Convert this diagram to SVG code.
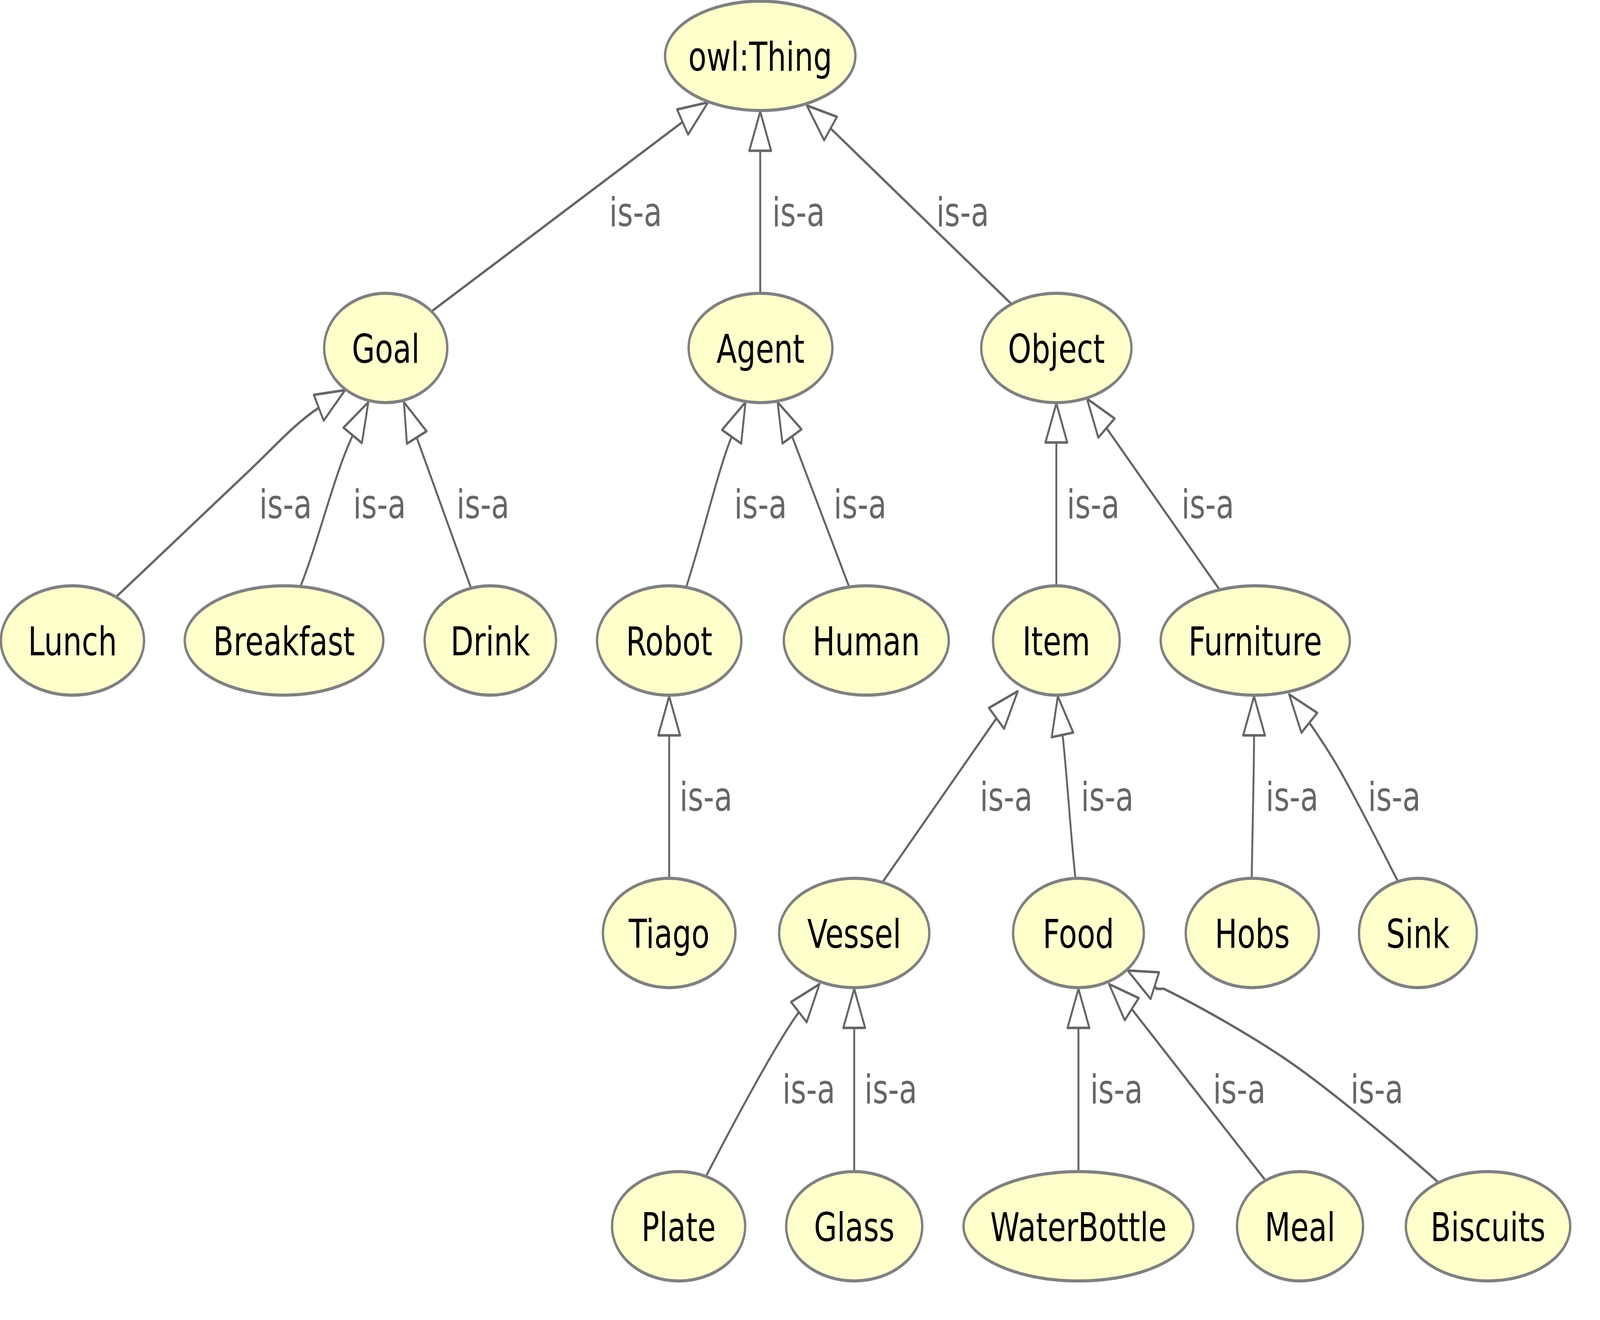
<svg xmlns="http://www.w3.org/2000/svg" xmlns:xlink="http://www.w3.org/1999/xlink" width="5430" height="3380" viewBox="0 0 5430 3380" preserveAspectRatio="none">
<style>
svg{width:100vw;height:100vh}
.node ellipse{fill:#ffffcc;stroke:#808080;stroke-width:8}
.node text{font-family:"DejaVu Sans","Liberation Sans",sans-serif;font-size:101px;fill:#000000;text-anchor:middle}
.edge path{fill:none;stroke:#666666;stroke-width:6.5}
.edge use{fill:#ffffff;stroke:#666666;stroke-width:6.5;stroke-linejoin:round}
.edge text{font-family:"DejaVu Sans","Liberation Sans",sans-serif;font-size:101px;fill:#666666;text-anchor:middle}
</style>
<defs><polygon id="ah" points="0,0 -100,-37 -100,37"/></defs>
<rect width="5430" height="3380" fill="#ffffff"/>
<g id="edges">
<g class="edge" id="e-goal-thing"><path d="M1460,800 L2317,312"/><use xlink:href="#ah" href="#ah" transform="translate(2403,262) rotate(-30.2)"/><text x="2157" y="579">is-a</text></g>
<g class="edge" id="e-agent-thing"><path d="M2580,751 L2580,386"/><use xlink:href="#ah" href="#ah" transform="translate(2580,286) rotate(-90)"/><text x="2710" y="579">is-a</text></g>
<g class="edge" id="e-object-thing"><path d="M3432,778 L2819,329"/><use xlink:href="#ah" href="#ah" transform="translate(2738,270) rotate(-143.8)"/><text x="3267" y="579">is-a</text></g>
<g class="edge" id="e-lunch-goal"><path d="M392,1530 L842,1208 C930,1145 1000,1085 1082,1044"/><use xlink:href="#ah" href="#ah" transform="translate(1171,999) rotate(-26.8)"/><text x="969" y="1327">is-a</text></g>
<g class="edge" id="e-breakfast-goal"><path d="M1020,1501 C1081,1386 1133,1217 1197,1115"/><use xlink:href="#ah" href="#ah" transform="translate(1250,1030) rotate(-57.9)"/><text x="1288" y="1327">is-a</text></g>
<g class="edge" id="e-drink-goal"><path d="M1601,1511 L1414,1120"/><use xlink:href="#ah" href="#ah" transform="translate(1371,1030) rotate(-115.6)"/><text x="1639" y="1327">is-a</text></g>
<g class="edge" id="e-robot-agent"><path d="M2329,1503 C2388,1365 2436,1206 2483,1118"/><use xlink:href="#ah" href="#ah" transform="translate(2530,1030) rotate(-61.9)"/><text x="2581" y="1327">is-a</text></g>
<g class="edge" id="e-human-agent"><path d="M2881,1501 L2688,1117"/><use xlink:href="#ah" href="#ah" transform="translate(2639,1030) rotate(-119.2)"/><text x="2919" y="1327">is-a</text></g>
<g class="edge" id="e-item-object"><path d="M3585,1500 L3585,1133"/><use xlink:href="#ah" href="#ah" transform="translate(3585,1033) rotate(-90)"/><text x="3710" y="1327">is-a</text></g>
<g class="edge" id="e-furniture-object"><path d="M4138,1509 L3755,1096"/><use xlink:href="#ah" href="#ah" transform="translate(3689,1021) rotate(-131.4)"/><text x="4099" y="1327">is-a</text></g>
<g class="edge" id="e-tiago-robot"><path d="M2271,2249 L2271,1883"/><use xlink:href="#ah" href="#ah" transform="translate(2271,1783) rotate(-90)"/><text x="2396" y="2076">is-a</text></g>
<g class="edge" id="e-vessel-item"><path d="M2995,2259 L3382,1839"/><use xlink:href="#ah" href="#ah" transform="translate(3454,1770) rotate(-43.9)"/><text x="3415" y="2076">is-a</text></g>
<g class="edge" id="e-food-item"><path d="M3650,2250 C3635,2153 3619,1963 3606,1882"/><use xlink:href="#ah" href="#ah" transform="translate(3590,1783) rotate(-99.1)"/><text x="3758" y="2076">is-a</text></g>
<g class="edge" id="e-hobs-furniture"><path d="M4248,2249 C4250,2150 4256,1960 4256,1883"/><use xlink:href="#ah" href="#ah" transform="translate(4256,1783) rotate(-90)"/><text x="4385" y="2076">is-a</text></g>
<g class="edge" id="e-sink-furniture"><path d="M4745,2258 C4700,2192 4640,2100 4560,1990 C4520,1935 4480,1890 4444,1851"/><use xlink:href="#ah" href="#ah" transform="translate(4375,1778) rotate(-133.3)"/><text x="4732" y="2076">is-a</text></g>
<g class="edge" id="e-plate-vessel"><path d="M2390,3021 C2460,2918 2627,2678 2711,2592"/><use xlink:href="#ah" href="#ah" transform="translate(2781,2520) rotate(-45.7)"/><text x="2745" y="2825">is-a</text></g>
<g class="edge" id="e-glass-vessel"><path d="M2899,3000 L2899,2632"/><use xlink:href="#ah" href="#ah" transform="translate(2899,2532) rotate(-90)"/><text x="3023" y="2825">is-a</text></g>
<g class="edge" id="e-waterbottle-food"><path d="M3660,3000 L3660,2632"/><use xlink:href="#ah" href="#ah" transform="translate(3660,2532) rotate(-90)"/><text x="3789" y="2825">is-a</text></g>
<g class="edge" id="e-meal-food"><path d="M4293,3021 L3841,2584"/><use xlink:href="#ah" href="#ah" transform="translate(3764,2520) rotate(-140.2)"/><text x="4206" y="2825">is-a</text></g>
<g class="edge" id="e-biscuits-food"><path d="M4885,3030 C4700,2905 4480,2772 4365,2713 C4250,2654 4080,2580 3950,2532 L3925,2532 L3919,2524"/><use xlink:href="#ah" href="#ah" transform="translate(3827,2485) rotate(-157.2)"/><text x="4673" y="2825">is-a</text></g>
</g>
<g class="node" id="n-thing"><ellipse cx="2580" cy="143" rx="323" ry="140"/><text x="2580" y="181">owl:Thing</text></g>
<g class="node" id="n-goal"><ellipse cx="1309" cy="891" rx="209" ry="140"/><text x="1309" y="929">Goal</text></g>
<g class="node" id="n-agent"><ellipse cx="2581" cy="891" rx="244" ry="140"/><text x="2581" y="929">Agent</text></g>
<g class="node" id="n-object"><ellipse cx="3585" cy="891" rx="255" ry="140"/><text x="3585" y="929">Object</text></g>
<g class="node" id="n-lunch"><ellipse cx="246" cy="1640" rx="243" ry="140"/><text x="246" y="1678">Lunch</text></g>
<g class="node" id="n-breakfast"><ellipse cx="964" cy="1640" rx="337" ry="140"/><text x="964" y="1678">Breakfast</text></g>
<g class="node" id="n-drink"><ellipse cx="1664" cy="1640" rx="223" ry="140"/><text x="1664" y="1678">Drink</text></g>
<g class="node" id="n-robot"><ellipse cx="2271" cy="1640" rx="245" ry="140"/><text x="2271" y="1678">Robot</text></g>
<g class="node" id="n-human"><ellipse cx="2940" cy="1640" rx="280" ry="140"/><text x="2940" y="1678">Human</text></g>
<g class="node" id="n-item"><ellipse cx="3585" cy="1640" rx="215" ry="140"/><text x="3585" y="1678">Item</text></g>
<g class="node" id="n-furniture"><ellipse cx="4260" cy="1640" rx="321" ry="140"/><text x="4260" y="1678">Furniture</text></g>
<g class="node" id="n-tiago"><ellipse cx="2271" cy="2389" rx="225" ry="140"/><text x="2271" y="2427">Tiago</text></g>
<g class="node" id="n-vessel"><ellipse cx="2899" cy="2389" rx="255" ry="140"/><text x="2899" y="2427">Vessel</text></g>
<g class="node" id="n-food"><ellipse cx="3660" cy="2389" rx="222" ry="140"/><text x="3660" y="2427">Food</text></g>
<g class="node" id="n-hobs"><ellipse cx="4250" cy="2389" rx="226" ry="140"/><text x="4250" y="2427">Hobs</text></g>
<g class="node" id="n-sink"><ellipse cx="4812" cy="2389" rx="200" ry="140"/><text x="4812" y="2427">Sink</text></g>
<g class="node" id="n-plate"><ellipse cx="2303" cy="3140" rx="226" ry="140"/><text x="2303" y="3178">Plate</text></g>
<g class="node" id="n-glass"><ellipse cx="2899" cy="3140" rx="231" ry="140"/><text x="2899" y="3178">Glass</text></g>
<g class="node" id="n-waterbottle"><ellipse cx="3660" cy="3140" rx="390" ry="140"/><text x="3660" y="3178">WaterBottle</text></g>
<g class="node" id="n-meal"><ellipse cx="4412" cy="3140" rx="214" ry="140"/><text x="4412" y="3178">Meal</text></g>
<g class="node" id="n-biscuits"><ellipse cx="5050" cy="3140" rx="279" ry="140"/><text x="5050" y="3178">Biscuits</text></g>
</svg>
